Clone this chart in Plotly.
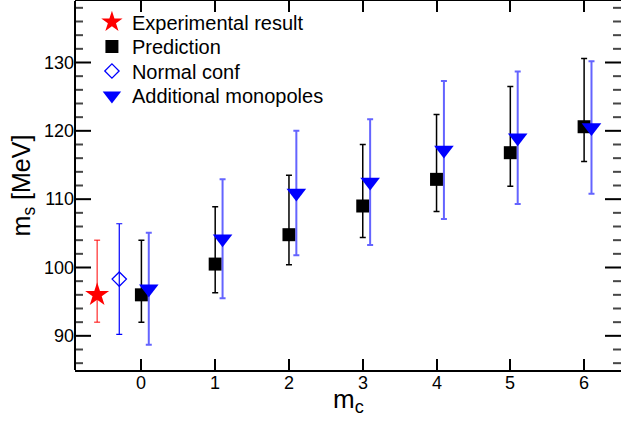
import plotly.graph_objects as go

# ---- data ----
exp_x = [-0.6]
exp_y = [96.0]
exp_plus = [8.0]
exp_minus = [4.0]

normal_x = [-0.3]
normal_y = [98.3]
normal_err = [8.1]

mc = [0, 1, 2, 3, 4, 5, 6]
pred_y = [96.0, 100.5, 104.8, 109.0, 112.9, 116.8, 120.6]
pred_plus = [8.0, 8.4, 8.7, 9.0, 9.5, 9.7, 10.0]
pred_minus = [4.0, 4.2, 4.4, 4.6, 4.7, 4.9, 5.1]

mono_x = [0.1, 1.1, 2.1, 3.1, 4.1, 5.1, 6.1]
mono_y = [96.9, 104.2, 110.9, 112.5, 117.2, 119.0, 120.5]
mono_err = [8.2, 8.7, 9.1, 9.2, 10.1, 9.7, 9.7]

x_ticks = [0, 1, 2, 3, 4, 5, 6]
y_ticks = [90, 100, 110, 120, 130]
y_minor = [v for v in range(86, 139, 2) if v not in y_ticks]
y_range = [85, 139]
x_range = [-0.9, 6.5]

FONT = "Liberation Sans, Arial, Helvetica, sans-serif"
LEG_FONT = dict(family=FONT, size=20, color="black")

fig = go.Figure()

fig.add_trace(go.Scatter(
    x=exp_x, y=exp_y, mode="markers", name="Experimental result", legend="legend",
    marker=dict(symbol="star", size=18, color="red", line=dict(width=0)),
    error_y=dict(type="data", symmetric=False, array=exp_plus, arrayminus=exp_minus,
                 color="red", thickness=1, width=3),
))
fig.add_trace(go.Scatter(
    x=mc, y=pred_y, mode="markers", name="Prediction", legend="legend2",
    marker=dict(symbol="square", size=13, color="black", line=dict(width=0)),
    error_y=dict(type="data", symmetric=False, array=pred_plus, arrayminus=pred_minus,
                 color="black", thickness=1.5, width=3),
))
fig.add_trace(go.Scatter(
    x=normal_x, y=normal_y, mode="markers", name="Normal conf", legend="legend3",
    marker=dict(symbol="diamond-open", size=11, color="blue", line=dict(width=1.3, color="blue")),
    error_y=dict(type="data", array=normal_err, color="blue", thickness=1.2, width=3),
))
fig.add_trace(go.Scatter(
    x=mono_x, y=mono_y, mode="markers", name="Additional monopoles", legend="legend4",
    marker=dict(symbol="triangle-down", size=17, color="blue", line=dict(width=0)),
    error_y=dict(type="data", array=mono_err, color="rgb(100,100,255)", thickness=2, width=3),
))

def leg(yc):
    return dict(x=0.031, y=yc, xanchor="left", yanchor="middle",
                bgcolor="rgba(0,0,0,0)", borderwidth=0, font=LEG_FONT, itemsizing="trace")

plot_w = 546.0
plot_h = 369.0

# y-axis tick marks (inside, left and right), placed on the y scale
tick_shapes = []
for v, ln, col, w in [(t, 16, "black", 2) for t in y_ticks] + [(t, 8, "rgb(70,70,70)", 2) for t in y_minor]:
    for x0, x1 in [(0, ln / plot_w), (1 - ln / plot_w, 1)]:
        tick_shapes.append(dict(type="line", xref="paper", yref="y", x0=x0, x1=x1, y0=v, y1=v,
                                line=dict(color=col, width=w), layer="above"))
# left frame line
tick_shapes.append(dict(type="line", xref="paper", yref="paper", x0=0, x1=0, y0=0, y1=1,
                        line=dict(color="black", width=2)))

x_labels = [dict(text=str(v), xref="x", yref="paper", x=v, y=-13 / plot_h,
                 xanchor="center", yanchor="middle", showarrow=False,
                 font=dict(size=18, family=FONT, color="black")) for v in x_ticks]

fig.update_layout(
    width=621, height=424,
    margin=dict(l=75, r=0, t=1, b=54, autoexpand=False),
    paper_bgcolor="white", plot_bgcolor="white",
    font=dict(family=FONT, color="black", size=18),
    showlegend=True,
    legend=leg(1 - 21 / plot_h),
    legend2=leg(1 - 45.5 / plot_h),
    legend3=leg(1 - 70 / plot_h),
    legend4=leg(1 - 94.5 / plot_h),
    xaxis=dict(range=x_range, tickmode="array", tickvals=x_ticks, showticklabels=False,
               ticks="inside", ticklen=11, tickwidth=2, tickcolor="black",
               showline=True, linewidth=2, linecolor="black", mirror="ticks",
               showgrid=False, zeroline=False),
    yaxis=dict(range=y_range, tickmode="array", tickvals=y_ticks,
               ticks="", showline=False,
               showgrid=False, zeroline=False,
               tickfont=dict(size=18, family=FONT),
               title=dict(text="m<sub>s</sub> [MeV]", font=dict(size=25, family=FONT), standoff=6)),
    shapes=tick_shapes,
    annotations=x_labels + [dict(text="m<sub>c</sub>", xref="paper", yref="paper", x=0.5, y=-30 / plot_h,
                                 xanchor="center", yanchor="middle", showarrow=False,
                                 font=dict(size=26, family=FONT, color="black"))],
)

fig.write_html("out.html")
